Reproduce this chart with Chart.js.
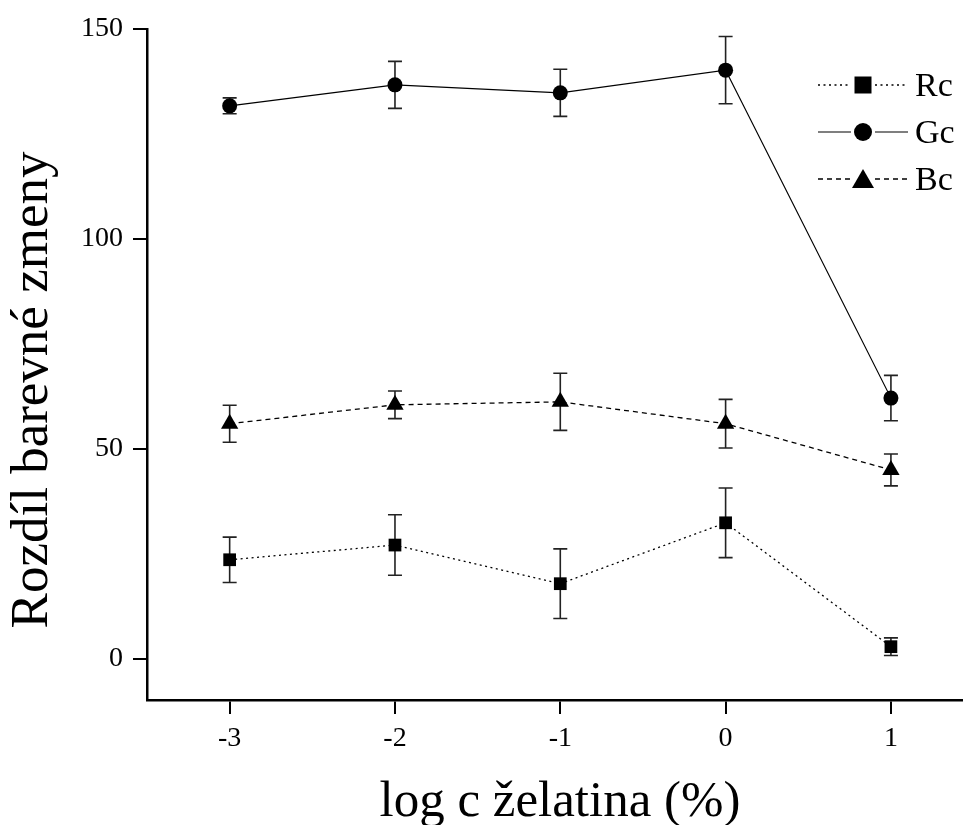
<!DOCTYPE html>
<html>
<head>
<meta charset="utf-8">
<script src="https://cdn.jsdelivr.net/npm/chart.js@4.4.1/dist/chart.umd.min.js"></script>
<style>
  html, body { margin: 0; padding: 0; background: #fff; }
  #wrap { width: 963px; height: 825px; }
</style>
</head>
<body>
<div id="wrap"><canvas id="chart" width="963" height="825"></canvas></div>
<script>
"use strict";

// log c (gelatin %) positions
const xValues = [-3, -2, -1, 0, 1];

// mean values
const rcMean = [23.6, 27.1, 17.9, 32.4, 2.9];
const gcMean = [131.7, 136.7, 134.8, 140.2, 62.1];
const bcMean = [56.0, 60.5, 61.2, 56.0, 45.0];

// symmetric error (± half the bar length)
const rcErr = [5.4, 7.2, 8.3, 8.3, 2.1];
const gcErr = [1.9, 5.6, 5.6, 8.0, 5.4];
const bcErr = [4.4, 3.3, 6.8, 5.8, 3.8];

const seriesLabels = ["Rc", "Gc", "Bc"];
const xTicks = [-3, -2, -1, 0, 1];
const yTicks = [0, 50, 100, 150];

const xTitle = "log c želatina (%)";
const yTitle = "Rozdíl barevné zmeny";

const FONT = "'Liberation Serif', 'Times New Roman', serif";
const INK = "#000";

function points(means) {
  return xValues.map((x, i) => ({ x, y: means[i] }));
}

// Error bars drawn under the markers, using the chart's own scales
const errorBarPlugin = {
  id: "errorBars",
  beforeDatasetsDraw(chart) {
    const { ctx, scales } = chart;
    const errs = [rcErr, gcErr, bcErr];
    const means = [rcMean, gcMean, bcMean];
    ctx.save();
    ctx.strokeStyle = "#222";
    ctx.lineWidth = 1.6;
    errs.forEach((err, s) => {
      xValues.forEach((xv, i) => {
        const x = scales.x.getPixelForValue(xv);
        const yTop = scales.y.getPixelForValue(means[s][i] + err[i]);
        const yBot = scales.y.getPixelForValue(means[s][i] - err[i]);
        ctx.beginPath();
        ctx.moveTo(x, yTop); ctx.lineTo(x, yBot);
        ctx.moveTo(x - 7, yTop); ctx.lineTo(x + 7, yTop);
        ctx.moveTo(x - 7, yBot); ctx.lineTo(x + 7, yBot);
        ctx.stroke();
      });
    });
    ctx.restore();
  },
};

// Legend: line — marker — line, then label
const legendPlugin = {
  id: "lineLegend",
  afterDraw(chart) {
    const { ctx } = chart;
    const rows = [85, 132, 179];
    ctx.save();
    chart.data.datasets.forEach((ds, i) => {
      const y = rows[i];
      ctx.strokeStyle = INK;
      ctx.lineWidth = ds.borderWidth;
      ctx.setLineDash(ds.borderDash || []);
      ctx.beginPath();
      ctx.moveTo(818, y); ctx.lineTo(851, y);
      ctx.moveTo(875, y); ctx.lineTo(908, y);
      ctx.stroke();
      ctx.setLineDash([]);
      ctx.fillStyle = INK;
      ctx.beginPath();
      if (ds.pointStyle === "rect") {
        ctx.rect(863 - 8.5, y - 8.5, 17, 17);
      } else if (ds.pointStyle === "circle") {
        ctx.arc(863, y, 9, 0, Math.PI * 2);
      } else {
        ctx.moveTo(863, y - 10);
        ctx.lineTo(874, y + 9);
        ctx.lineTo(852, y + 9);
        ctx.closePath();
      }
      ctx.fill();
      ctx.font = `34px ${FONT}`;
      ctx.textAlign = "left";
      ctx.textBaseline = "middle";
      ctx.fillText(ds.label, 915, y + 2);
    });
    ctx.restore();
  },
};

// Axis titles placed where the original has them
const titlePlugin = {
  id: "axisTitles",
  afterDraw(chart) {
    const { ctx } = chart;
    ctx.save();
    ctx.fillStyle = INK;
    ctx.textAlign = "center";
    ctx.textBaseline = "alphabetic";
    ctx.font = `51px ${FONT}`;
    ctx.fillText(xTitle, 560, 816);
    ctx.font = `53px ${FONT}`;
    ctx.translate(47, 390);
    ctx.rotate(-Math.PI / 2);
    ctx.fillText(yTitle, 0, 0);
    ctx.restore();
  },
};

new Chart(document.getElementById("chart"), {
  type: "line",
  data: {
    datasets: [
      {
        label: seriesLabels[0],
        data: points(rcMean),
        borderColor: INK,
        backgroundColor: INK,
        borderWidth: 1.3,
        borderDash: [2, 3.5],
        pointStyle: "rect",
        pointRadius: 9,
        pointBorderWidth: 0,
      },
      {
        label: seriesLabels[1],
        data: points(gcMean),
        borderColor: INK,
        backgroundColor: INK,
        borderWidth: 1.1,
        pointStyle: "circle",
        pointRadius: 7.5,
        pointBorderWidth: 0,
      },
      {
        label: seriesLabels[2],
        data: points(bcMean),
        borderColor: INK,
        backgroundColor: INK,
        borderWidth: 1.3,
        borderDash: [5, 4],
        pointStyle: "triangle",
        pointRadius: 10,
        pointBorderWidth: 0,
      },
    ],
  },
  options: {
    responsive: false,
    animation: false,
    layout: { autoPadding: false, padding: { top: 29, right: 0, left: 0, bottom: 0 } },
    plugins: {
      legend: { display: false },
      tooltip: { enabled: false },
    },
    scales: {
      x: {
        type: "linear",
        min: -3.5,
        max: 1.436,
        afterBuildTicks: (scale) => { scale.ticks = xTicks.map((v) => ({ value: v })); },
        afterFit: (scale) => {
          scale.height = 125;
          scale.paddingLeft = 0;
          scale.paddingRight = 0;
        },
        grid: { drawOnChartArea: false, drawTicks: true, tickLength: 14, color: INK, lineWidth: 2 },
        border: { display: true, color: INK, width: 2.5 },
        ticks: {
          color: INK,
          font: { family: FONT, size: 28 },
          padding: 8,
          maxRotation: 0,
          callback: (v) => String(v),
        },
      },
      y: {
        type: "linear",
        min: -9.8,
        max: 150,
        afterBuildTicks: (scale) => { scale.ticks = yTicks.map((v) => ({ value: v })); },
        afterFit: (scale) => { scale.width = 147; },
        grid: { drawOnChartArea: false, drawTicks: true, tickLength: 14, color: INK, lineWidth: 2 },
        border: { display: true, color: INK, width: 2.5 },
        ticks: {
          color: INK,
          font: { family: FONT, size: 28 },
          padding: 10,
          callback: (v) => String(v),
        },
      },
    },
  },
  plugins: [errorBarPlugin, legendPlugin, titlePlugin],
});
</script>
</body>
</html>
